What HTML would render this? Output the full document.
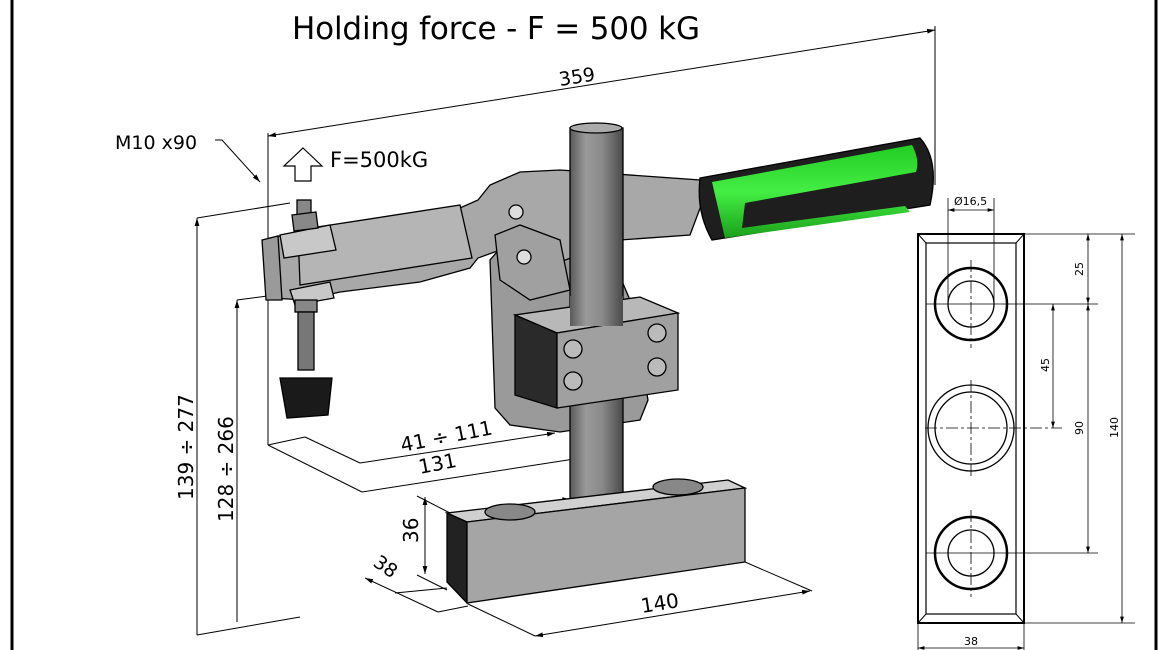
<!DOCTYPE html>
<html><head><meta charset="utf-8"><style>
html,body{margin:0;padding:0;background:#fff}
svg{display:block}
text{font-family:"DejaVu Sans","Liberation Sans",sans-serif;fill:#000}
</style></head><body>
<svg width="1170" height="650" viewBox="0 0 1170 650" xmlns="http://www.w3.org/2000/svg">
<defs>
<linearGradient id="rod" x1="0" x2="1"><stop offset="0" stop-color="#5a5a5a"/><stop offset="0.3" stop-color="#9a9a9a"/><stop offset="0.6" stop-color="#8a8a8a"/><stop offset="1" stop-color="#4a4a4a"/></linearGradient>
<linearGradient id="grn" x1="0" y1="0" x2="0" y2="1"><stop offset="0" stop-color="#22cc22"/><stop offset="0.5" stop-color="#44ee44"/><stop offset="1" stop-color="#1aa01a"/></linearGradient>
<marker id="ar" viewBox="0 0 10 10" refX="10" refY="5" markerWidth="8" markerHeight="8" orient="auto-start-reverse"><path d="M0,2 L10,5 L0,8 z" fill="#000"/></marker>
</defs>
<line x1="12" y1="0" x2="12" y2="650" stroke="#000" stroke-width="3"/>
<line x1="1156" y1="0" x2="1156" y2="650" stroke="#000" stroke-width="3"/>

<text x="292" y="39" font-size="31" textLength="408">Holding force - F = 500 kG</text>

<g stroke="#000" stroke-width="1" fill="none">
<line x1="268" y1="136" x2="935" y2="30" marker-start="url(#ar)" marker-end="url(#ar)"/>
<line x1="268" y1="133" x2="268" y2="445"/>
<line x1="935" y1="26" x2="935" y2="185"/>
<polyline points="215,140 222,140 260,182" marker-end="url(#ar)"/>
<line x1="197" y1="218" x2="290" y2="203"/>
<line x1="197" y1="218" x2="197" y2="635" marker-start="url(#ar)"/>
<line x1="197" y1="635" x2="300" y2="617"/>
<line x1="237" y1="300" x2="275" y2="295"/>
<line x1="237" y1="300" x2="237" y2="622" marker-start="url(#ar)"/>
<line x1="268" y1="445" x2="362" y2="492"/>
<line x1="305" y1="437" x2="360" y2="463"/>
<line x1="360" y1="463" x2="555" y2="433" marker-end="url(#ar)"/>
<line x1="362" y1="492" x2="600" y2="455"/>
<line x1="268" y1="445" x2="305" y2="437"/>
<line x1="425" y1="497" x2="425" y2="574" marker-start="url(#ar)" marker-end="url(#ar)"/>
<line x1="417" y1="496" x2="450" y2="513"/>
<line x1="417" y1="575" x2="447" y2="590"/>
<line x1="365" y1="578" x2="438" y2="612" marker-start="url(#ar)"/>
<line x1="395" y1="593" x2="447" y2="588"/>
<line x1="438" y1="612" x2="468" y2="606"/>
<line x1="468" y1="604" x2="535" y2="636"/>
<line x1="745" y1="562" x2="812" y2="591"/>
<line x1="535" y1="636" x2="810" y2="591" marker-start="url(#ar)" marker-end="url(#ar)"/>
</g>
<text x="115" y="149" font-size="19">M10 x90</text>
<text transform="translate(560,86) rotate(-9)" font-size="19">359</text>
<path d="M303,148 L322,166 L311,166 L311,181 L295,181 L295,166 L284,166 Z" fill="none" stroke="#000" stroke-width="1.2"/>
<text x="330" y="167" font-size="21">F=500kG</text>
<text transform="translate(193,500) rotate(-90)" font-size="20">139 ÷ 277</text>
<text transform="translate(233,522) rotate(-90)" font-size="20">128 ÷ 266</text>
<text transform="translate(402,452) rotate(-11)" font-size="20">41 ÷ 111</text>
<text transform="translate(420,474) rotate(-11)" font-size="20">131</text>
<text transform="translate(418,543) rotate(-90)" font-size="20">36</text>
<text transform="translate(372,565) rotate(35)" font-size="19">38</text>
<text transform="translate(642,613) rotate(-9)" font-size="20">140</text>

<g stroke="#000" stroke-width="1.3">
<path d="M490,260 L495,408 L510,425 L560,432 L640,420 L648,400 L630,300 L600,230 L520,225 Z" fill="#9a9a9a"/>
<path d="M270,238 L300,232 L330,230 L460,208 L478,200 L490,185 L520,172 L560,170 L700,180 L705,195 L690,235 L620,240 L560,262 L500,250 L478,258 L470,268 L420,282 L340,292 L305,300 L272,298 Z" fill="#a8a8a8"/>
<path d="M298,230 L460,205 L472,258 L300,285 Z" fill="#b5b5b5"/>
<path d="M262,240 L278,236 L282,300 L266,300 Z" fill="#9a9a9a"/>
<path d="M280,235 L330,225 L336,250 L284,258 Z" fill="#c8c8c8"/>
<path d="M290,290 L330,282 L334,298 L295,305 Z" fill="#c8c8c8"/>
<path d="M495,235 L520,225 L560,240 L570,290 L530,300 L500,280 Z" fill="#a0a0a0"/>
<circle cx="516" cy="212" r="7" fill="#ddd"/>
<circle cx="524" cy="257" r="7" fill="#ddd"/>
<rect x="297" y="200" width="14" height="16" fill="#888"/>
<path d="M292,215 L316,212 L318,228 L294,231 Z" fill="#888"/>
<rect x="295" y="300" width="22" height="12" fill="#888"/>
<rect x="298" y="312" width="16" height="58" fill="#777"/>
<path d="M280,378 L332,378 L328,415 L287,418 Z" fill="#1a1a1a"/>
<rect x="570" y="128" width="53" height="372" fill="url(#rod)"/>
<ellipse cx="596" cy="128" rx="26" ry="5" fill="#aaa"/>
<path d="M563,498 Q596,510 630,496 L630,505 Q596,516 563,506 Z" fill="#ccc"/>
<path d="M515,315 L557,333 L678,313 L640,297 Z" fill="#b8b8b8"/>
<path d="M515,315 L557,333 L557,408 L515,395 Z" fill="#2a2a2a"/>
<path d="M557,333 L678,313 L678,390 L557,408 Z" fill="#a0a0a0"/>
<rect x="570" y="296" width="53" height="30" fill="url(#rod)" stroke="none"/>
<circle cx="573" cy="349" r="9" fill="#bbb"/><circle cx="573" cy="381" r="9" fill="#bbb"/>
<circle cx="657" cy="333" r="9" fill="#bbb"/><circle cx="657" cy="367" r="9" fill="#bbb"/>
<path d="M700,178 L920,138 Q940,160 930,205 L712,240 Q696,212 700,178 Z" fill="#1e1e1e"/>
<path d="M712,182 L912,145 Q920,160 916,172 L745,203 L742,228 L905,206 L910,212 L725,238 Z" fill="url(#grn)" stroke="none"/>
<path d="M447,513 L467,522 L745,488 L728,480 Z" fill="#d0d0d0"/>
<path d="M447,513 L467,522 L467,603 L447,582 Z" fill="#222"/>
<path d="M467,522 L745,488 L745,562 L467,603 Z" fill="#a5a5a5"/>
<ellipse cx="510" cy="512" rx="25" ry="8" fill="#888"/>
<ellipse cx="678" cy="487" rx="25" ry="8" fill="#888"/>
</g>

<g stroke="#000" fill="none">
<rect x="918" y="234" width="106" height="389" stroke-width="2"/>
<rect x="926" y="243" width="90" height="371" stroke-width="1.2"/>
<line x1="918" y1="234" x2="926" y2="243"/><line x1="1024" y1="234" x2="1016" y2="243"/>
<line x1="918" y1="623" x2="926" y2="614"/><line x1="1024" y1="623" x2="1016" y2="614"/>
<circle cx="971" cy="304" r="36" stroke-width="2.5"/><circle cx="971" cy="304" r="23" stroke-width="1.3"/>
<circle cx="971" cy="428" r="43" stroke-width="1.3"/><circle cx="971" cy="428" r="36" stroke-width="1.3"/>
<circle cx="971" cy="553" r="36" stroke-width="2.5"/><circle cx="971" cy="553" r="23" stroke-width="1.3"/>
<g stroke-width="0.8" stroke-dasharray="12,3,3,3">
<line x1="971" y1="260" x2="971" y2="348"/><line x1="971" y1="380" x2="971" y2="478"/><line x1="971" y1="510" x2="971" y2="597"/>
<line x1="925" y1="428" x2="1062" y2="428"/>
</g>
<g stroke-width="0.8">
<line x1="926" y1="304" x2="1098" y2="304"/><line x1="926" y1="553" x2="1098" y2="553"/>
<line x1="1024" y1="234" x2="1135" y2="234"/><line x1="1024" y1="623" x2="1135" y2="623"/>
<line x1="948" y1="198" x2="948" y2="304"/><line x1="994" y1="198" x2="994" y2="304"/>
<line x1="948" y1="210" x2="994" y2="210" marker-start="url(#ar)" marker-end="url(#ar)"/>
<line x1="1088" y1="234" x2="1088" y2="304" marker-start="url(#ar)" marker-end="url(#ar)"/>
<line x1="1088" y1="304" x2="1088" y2="553" marker-start="url(#ar)" marker-end="url(#ar)"/>
<line x1="1053" y1="304" x2="1053" y2="428" marker-start="url(#ar)" marker-end="url(#ar)"/>
<line x1="1122" y1="234" x2="1122" y2="623" marker-start="url(#ar)" marker-end="url(#ar)"/>
<line x1="918" y1="623" x2="918" y2="650"/><line x1="1024" y1="623" x2="1024" y2="650"/>
<line x1="918" y1="648" x2="1024" y2="648" marker-start="url(#ar)" marker-end="url(#ar)"/>
</g>
</g>
<g font-size="11">
<text x="954" y="205">Ø16,5</text>
<text transform="translate(1083,276) rotate(-90)">25</text>
<text transform="translate(1049,372) rotate(-90)">45</text>
<text transform="translate(1083,435) rotate(-90)">90</text>
<text transform="translate(1118,438) rotate(-90)">140</text>
<text x="964" y="645">38</text>
</g>
</svg>
</body></html>
